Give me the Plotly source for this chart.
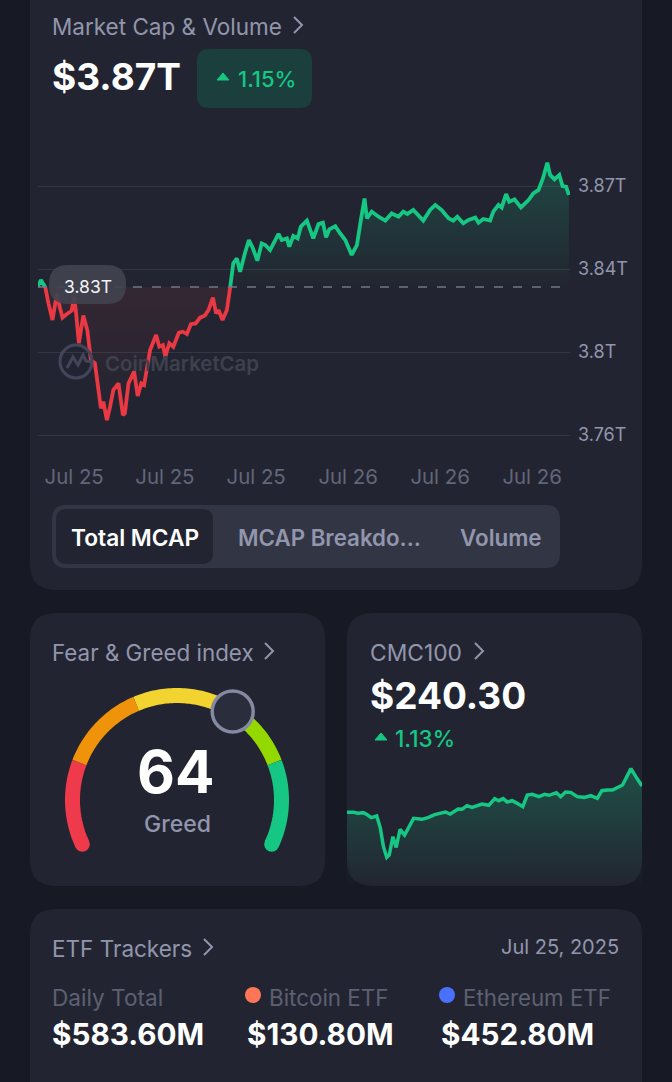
import numpy as np
import plotly.graph_objects as go

W, H = 672, 1082
FONT = "Inter"
PAGE_BG = "#171a25"
CARD_BG = "#222531"
GREY = "#9296ad"
DIM = "#5d6072"
GREEN = "#16c784"
RED = "#ea3943"

# Market cap, minutes since window start / value in trillions
mcap_minutes = [0, 9, 20, 28, 38, 49, 57, 63, 74, 86, 92, 97, 104, 115, 125, 134, 144, 153, 159, 165, 174, 182, 190,
                203, 214, 219, 228, 242, 251, 260, 267, 282, 297, 305, 314, 320, 330, 340, 354, 364, 374, 384, 396,
                407, 419, 428, 439, 447, 453, 463, 474, 482, 490, 499, 507, 519, 529, 539, 550, 561, 570, 582, 603,
                611, 624, 630, 640, 651, 659, 674, 690, 703, 714, 722, 730, 745, 757, 770, 786, 799, 809, 818, 824,
                836, 853, 870, 886, 903, 915, 925, 940, 965, 982, 995, 1011, 1028, 1040, 1050, 1065, 1078, 1095,
                1103, 1115, 1132, 1140, 1153, 1161, 1172, 1180, 1193, 1209, 1228, 1240, 1253, 1264, 1275, 1282,
                1293, 1305, 1313, 1322, 1329]
mcap_values = [3.8280, 3.8312, 3.8280, 3.8211, 3.8139, 3.8252, 3.8189, 3.8149, 3.8165, 3.8179, 3.8240, 3.8168, 3.8038,
               3.8158, 3.8095, 3.7965, 3.7951, 3.7835, 3.7756, 3.7785, 3.7705, 3.7763, 3.7835, 3.7864, 3.7727, 3.7734,
               3.7864, 3.7915, 3.7809, 3.7864, 3.7857, 3.8009, 3.8074, 3.8023, 3.8030, 3.7980, 3.8038, 3.8023, 3.8084,
               3.8088, 3.8078, 3.8121, 3.8124, 3.8149, 3.8158, 3.8182, 3.8236, 3.8168, 3.8182, 3.8139, 3.8182, 3.8279,
               3.8385, 3.8406, 3.8348, 3.8428, 3.8486, 3.8450, 3.8396, 3.8471, 3.8464, 3.8442, 3.8512, 3.8486, 3.8493,
               3.8457, 3.8503, 3.8493, 3.8544, 3.8570, 3.8493, 3.8555, 3.8561, 3.8497, 3.8532, 3.8546, 3.8515, 3.8486,
               3.8421, 3.8464, 3.8573, 3.8666, 3.8580, 3.8609, 3.8587, 3.8570, 3.8601, 3.8587, 3.8609, 3.8599, 3.8616,
               3.8570, 3.8616, 3.8638, 3.8616, 3.8580, 3.8570, 3.8587, 3.8558, 3.8573, 3.8583, 3.8561, 3.8577, 3.8570,
               3.8609, 3.8638, 3.8627, 3.8685, 3.8652, 3.8662, 3.8627, 3.8659, 3.8688, 3.8703, 3.8753, 3.8821, 3.8768,
               3.8749, 3.8768, 3.8720, 3.8717, 3.8681]
mcap_baseline = 3.8282
mcap_ticks = [3.764, 3.80, 3.836, 3.872]
mcap_tick_labels = ["3.76T", "3.8T", "3.84T", "3.87T"]
time_ticks = [92, 319, 547, 777, 1007, 1237]
time_labels = ["Jul 25", "Jul 25", "Jul 25", "Jul 26", "Jul 26", "Jul 26"]

# CMC100 sparkline
cmc_minutes = [0, 31, 55, 80, 101, 118, 145, 162, 178, 194, 206, 224, 240, 259, 281, 325, 366, 398, 428, 480, 504, 542,
               561, 586, 610, 659, 692, 721, 741, 762, 782, 806, 831, 858, 880, 904, 937, 964, 986, 1022, 1043, 1067,
               1092, 1124, 1157, 1190, 1222, 1244, 1271, 1296, 1345, 1386, 1410, 1440]
cmc_values = [237.61, 237.61, 237.51, 237.58, 237.34, 237.07, 237.24, 236.08, 234.11, 233.02, 233.26, 235.13, 234.04,
              235.88, 235.30, 237.00, 236.90, 237.10, 237.38, 237.65, 237.44, 237.95, 237.92, 238.29, 238.12, 238.46,
              238.33, 239.01, 238.80, 239.01, 238.67, 238.80, 238.53, 238.19, 239.38, 239.45, 239.21, 239.45, 239.35,
              239.62, 239.21, 239.69, 239.65, 239.21, 239.14, 239.31, 239.04, 239.82, 239.89, 239.89, 240.40, 242.07,
              241.25, 240.30]

# Fear & Greed gauge
greed_value = 64
greed_bands = [0, 20, 40, 60, 80, 100]
greed_colors = ["#ee3a4a", "#ee930a", "#f3d330", "#93d900", "#16c784"]


def dom(top, bottom):
    return [1 - bottom / H, 1 - top / H]


def rounded(x0, y0, x1, y1, r):
    return (f"M{x0+r},{y0} L{x1-r},{y0} Q{x1},{y0} {x1},{y0+r} L{x1},{y1-r} Q{x1},{y1} {x1-r},{y1} "
            f"L{x0+r},{y1} Q{x0},{y1} {x0},{y1-r} L{x0},{y0+r} Q{x0},{y0} {x0+r},{y0} Z")


fig = go.Figure()
shapes = []
notes = []


def box(x0, y0, x1, y1, r, color, layer="below", opacity=1):
    shapes.append(dict(type="path", path=rounded(x0, y0, x1, y1, r), fillcolor=color, opacity=opacity,
                       line=dict(width=0), xref="x", yref="y", layer=layer))


def text(x, y, s, size, color=GREY, weight=400, anchor="left"):
    notes.append(dict(x=x, y=y, xref="x", yref="y", text=s, showarrow=False, xanchor=anchor, yanchor="middle",
                      borderpad=0, borderwidth=0,
                      font=dict(family=FONT, size=size, color=color, weight=weight)))


def chevron(x, y):
    shapes.append(dict(type="path", path=f"M{x},{y-8} L{x+8},{y} L{x},{y+8}", xref="x", yref="y",
                       line=dict(color=GREY, width=2)))


def triangle(x, y):
    shapes.append(dict(type="path", path=f"M{x-6},{y+3} L{x},{y-4} L{x+6},{y+3} Z", xref="x", yref="y",
                       fillcolor=GREEN, line=dict(color=GREEN, width=1)))


# cards
box(30, -40, 642, 590, 26, CARD_BG)
box(30, 613, 325, 886, 26, CARD_BG)
box(347, 613, 642, 886, 26, CARD_BG)
box(30, 909, 642, 1120, 26, CARD_BG)

# header of the big card
text(52, 26, "Market Cap &amp; Volume", 22.5)
chevron(294, 25)
text(52, 76, "$3.87T", 37, "#ffffff", 700)
box(197, 49, 312, 108, 12, "#1a3f3c")
triangle(223, 77)
text(238, 79, "1.15%", 22, GREEN, 500)

# segmented control
box(52, 505, 560, 568, 14, "#323544")
box(56, 509, 213, 564, 11, CARD_BG)
text(135, 537, "Total MCAP", 22.7, "#ffffff", 600, "center")
text(329, 537, "MCAP Breakdo...", 22.3, GREY, 600, "center")
text(501, 537, "Volume", 22.4, GREY, 600, "center")

# page frame axes in pixels, gauge lives here
sweep = lambda v: np.radians(205 - 230 * np.asarray(v) / 100)
gx, gy, gr = 177, 800, 104.5
for lo, hi, color in zip(greed_bands[:-1], greed_bands[1:], greed_colors):
    a = sweep(np.linspace(lo, hi, 40))
    fig.add_trace(go.Scatter(x=gx + gr * np.cos(a), y=gy - gr * np.sin(a), mode="lines",
                             line=dict(color=color, width=15, simplify=False), hoverinfo="skip"))
a = sweep([greed_bands[0], greed_bands[-1]])
fig.add_trace(go.Scatter(x=gx + gr * np.cos(a), y=gy - gr * np.sin(a), mode="markers",
                         marker=dict(size=15, color=[greed_colors[0], greed_colors[-1]]), hoverinfo="skip"))
a = sweep(greed_value)
fig.add_trace(go.Scatter(x=[gx + gr * np.cos(a)], y=[gy - gr * np.sin(a)], mode="markers",
                         marker=dict(size=41, color="#2a2d3c", line=dict(color="#868aa1", width=3.5)),
                         hoverinfo="skip"))
text(52, 652, "Fear &amp; Greed index", 22.4)
chevron(265, 651)
text(176, 771, str(greed_value), 58.5, "#ffffff", 700, "center")
text(177, 824, "Greed", 23, GREY, 500, "center")

# market cap chart: one axis carries grid and labels, two clipped axes split the colours at the baseline
fig.add_trace(go.Scatter(x=mcap_minutes, y=mcap_values, xaxis="x2", yaxis="y2", mode="lines",
                         line=dict(width=0, color="rgba(0,0,0,0)"), hoverinfo="skip"))
base_x = [mcap_minutes[0], mcap_minutes[-1]]
base_y = [mcap_baseline, mcap_baseline]
for axis, color, grad in [
    ("y3", GREEN, dict(start=max(mcap_values), stop=mcap_baseline,
                       colorscale=[[0, "rgba(22,199,132,0.22)"], [1, "rgba(22,199,132,0)"]])),
    ("y4", RED, dict(start=mcap_baseline, stop=min(mcap_values),
                     colorscale=[[0, "rgba(234,57,67,0.09)"], [1, "rgba(234,57,67,0)"]])),
]:
    fig.add_trace(go.Scatter(x=base_x, y=base_y, xaxis="x2", yaxis=axis, mode="lines", line=dict(width=0),
                             hoverinfo="skip"))
    fig.add_trace(go.Scatter(x=mcap_minutes, y=mcap_values, xaxis="x2", yaxis=axis, mode="lines",
                             line=dict(color=color, width=3.8, simplify=False), fill="tonexty",
                             fillgradient=dict(type="vertical", **grad), hoverinfo="skip"))

shapes.append(dict(type="line", x0=38, x1=570, y0=287, y1=287, xref="x", yref="y", layer="above",
                   line=dict(color="#737687", width=1.5, dash="9px,10px")))
box(49, 265, 126, 304, 19, "#41434f", "above", 0.93)
text(87.5, 286, "3.83T", 17.5, "#f2f3f6", 400, "center")

# watermark
shapes.append(dict(type="circle", x0=60, x1=92, y0=345, y1=378, xref="x", yref="y", layer="above",
                   line=dict(color="#43465a", width=3)))
shapes.append(dict(type="path", path="M67,368 L73,357 L78,365 L83,355 L86,361 L92,362", xref="x", yref="y",
                   layer="above", line=dict(color="#43465a", width=3)))
text(105, 363, "CoinMarketCap", 20.4, "#3e414d", 600)

# CMC100 card
text(370, 652, "CMC100", 22.8)
chevron(475, 651)
text(370, 695, "$240.30", 37, "#ffffff", 700)
triangle(381, 737)
text(395, 738, "1.13%", 22.5, GREEN, 500)
fig.add_trace(go.Scatter(x=cmc_minutes, y=cmc_values, xaxis="x3", yaxis="y5", mode="lines",
                         line=dict(color=GREEN, width=3.5, simplify=False), fill="tozeroy",
                         fillgradient=dict(type="vertical", start=max(cmc_values), stop=230.1,
                                           colorscale=[[0, "rgba(22,199,132,0.26)"], [1, "rgba(22,199,132,0)"]]),
                         hoverinfo="skip"))

# ETF card
text(52, 948, "ETF Trackers", 22.5)
chevron(204, 947)
text(619, 947, "Jul 25, 2025", 20, GREY, 400, "right")
text(52, 997, "Daily Total", 22.6, DIM)
fig.add_trace(go.Scatter(x=[253, 447], y=[995, 995], mode="markers", hoverinfo="skip",
                         marker=dict(size=16, color=["#ff7558", "#4a70ff"])))
text(269, 997, "Bitcoin ETF", 22.4, DIM)
text(463, 997, "Ethereum ETF", 22.3, DIM)
text(52, 1034, "$583.60M", 29.7, "#ffffff", 700)
text(247, 1034, "$130.80M", 29.7, "#ffffff", 700)
text(441, 1034, "$452.80M", 29.7, "#ffffff", 700)

hidden = dict(visible=False)
per_px = 0.036 / 83
value_at = lambda py: 3.872 - (py - 186) * per_px
fig.update_layout(
    width=W, height=H, margin=dict(l=0, r=0, t=0, b=0, autoexpand=False), showlegend=False,
    paper_bgcolor=PAGE_BG, plot_bgcolor="rgba(0,0,0,0)",
    shapes=shapes, annotations=notes,
    xaxis=dict(range=[0, W], domain=[0, 1], **hidden),
    yaxis=dict(range=[H, 0], domain=[0, 1], **hidden),
    xaxis2=dict(domain=[38 / W, 570 / W], range=[1.75, 1331.75], anchor="y2", showgrid=False, zeroline=False,
                tickvals=time_ticks, ticktext=time_labels, ticks="", showline=False,
                tickfont=dict(family=FONT, size=20.4, color="#63667a"), ticklabelstandoff=23),
    yaxis2=dict(domain=dom(150, 440), range=[value_at(440), value_at(150)], anchor="x2", side="right",
                tickvals=mcap_ticks, ticktext=mcap_tick_labels, gridcolor="#333644", gridwidth=1, zeroline=False,
                showline=False, ticks="", tickfont=dict(family=FONT, size=18, color=GREY), ticklabelstandoff=7),
    yaxis3=dict(domain=dom(150, 287), range=[mcap_baseline, value_at(150)], anchor="x2", **hidden),
    yaxis4=dict(domain=dom(287, 440), range=[value_at(440), mcap_baseline], anchor="x2", **hidden),
    xaxis3=dict(domain=[347 / W, 642 / W], range=[0, 1440], anchor="y5", **hidden),
    yaxis5=dict(domain=dom(760, 886), range=[230.10, 242.95], anchor="x3", **hidden),
)

fig.write_html("out.html", config={"displayModeBar": False},
               post_script="document.body.style.margin='0';document.body.style.overflow='hidden';")
